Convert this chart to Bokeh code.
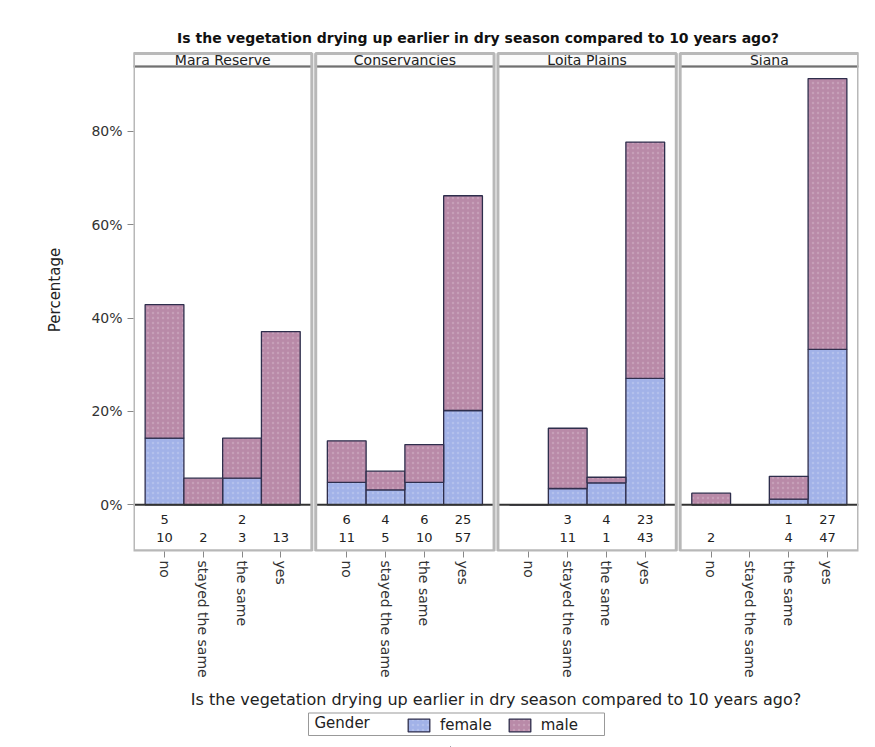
from bokeh.plotting import figure
from bokeh.layouts import column
from bokeh.models import (Range1d, FixedTicker, ColumnDataSource, Label, Legend,
                          LegendItem, PrintfTickFormatter)
from bokeh.core.properties import value
from bokeh.embed import file_html
from bokeh.resources import INLINE

# ---------------- data ----------------
regions = ["Mara Reserve", "Conservancies", "Loita Plains", "Siana"]
responses = ["no", "stayed the same", "the same", "yes"]

female_pct_mara = [14.3, 0.0, 5.7, 0.0]
male_pct_mara = [28.6, 5.7, 8.6, 37.1]
female_pct_cons = [4.8, 3.2, 4.8, 20.2]
male_pct_cons = [8.9, 4.0, 8.1, 46.0]
female_pct_loita = [0.0, 3.5, 4.7, 27.1]
male_pct_loita = [0.0, 12.9, 1.2, 50.6]
female_pct_siana = [0.0, 0.0, 1.2, 33.3]
male_pct_siana = [2.5, 0.0, 4.9, 58.0]

female_n_mara = ["5", "", "2", ""]
male_n_mara = ["10", "2", "3", "13"]
female_n_cons = ["6", "4", "6", "25"]
male_n_cons = ["11", "5", "10", "57"]
female_n_loita = ["", "3", "4", "23"]
male_n_loita = ["", "11", "1", "43"]
female_n_siana = ["", "", "1", "27"]
male_n_siana = ["2", "", "4", "47"]

y_ticks = [0, 20, 40, 60, 80]
legend_title = "Gender"
legend_labels = ["female", "male"]

title_text = "Is the vegetation drying up earlier in dry season compared to 10 years ago?"
xlabel_text = "Is the vegetation drying up earlier in dry season compared to 10 years ago?"

female_pct = [female_pct_mara, female_pct_cons, female_pct_loita, female_pct_siana]
male_pct = [male_pct_mara, male_pct_cons, male_pct_loita, male_pct_siana]
female_n = [female_n_mara, female_n_cons, female_n_loita, female_n_siana]
male_n = [male_n_mara, male_n_cons, male_n_loita, male_n_siana]

# ---------------- layout constants ----------------
FONT = "DejaVu Sans"
PANEL_W = 4.6
GAP = 0.1
STEP = PANEL_W + GAP
PAD = 0.8
Y_BOT = -10.0
Y_TOP = 102.03
HDR_BOT = 93.9
HDR_TOP = 96.7
ROW_F = -3.2
ROW_M = -7.06
TABLE_BOT = -9.84

FEMALE_C = "#a2b2e8"
MALE_C = "#b98aa8"
EDGE_C = "#2e2e4c"
FRAME_C = "#b8b8b8"
TXT_C = "#222222"

FRAME_L = 133
FRAME_R = 858

MAIN_H = 711
p = figure(width=875, height=MAIN_H, output_backend="svg", toolbar_location=None,
           x_range=Range1d(0, 4 * PANEL_W + 3 * GAP), y_range=Range1d(Y_BOT, Y_TOP),
           title=None, min_border_left=FRAME_L, min_border_right=875 - FRAME_R,
           min_border_top=28, min_border_bottom=MAIN_H - 551)
p.outline_line_color = None
p.grid.visible = False
p.background_fill_color = "white"
p.border_fill_color = "white"

xs, fb, ft, mb, mt, fl, ml = [], [], [], [], [], [], []
tick_pos, overrides = [], {}
for k in range(4):
    x0 = k * STEP
    for i, resp in enumerate(responses):
        cx = x0 + PAD + i
        xs.append(cx)
        f = female_pct[k][i]
        m = male_pct[k][i]
        fb.append(0.0)
        ft.append(f)
        mb.append(f)
        mt.append(f + m)
        fl.append(female_n[k][i])
        ml.append(male_n[k][i])
        tick_pos.append(cx)
        overrides[cx] = resp

src = ColumnDataSource(dict(x=xs, fb=fb, ft=ft, mb=mb, mt=mt, fl=fl, ml=ml,
                            yf=[ROW_F] * len(xs), ym=[ROW_M] * len(xs)))

# panel frames / headers
px0 = [k * STEP for k in range(4)]
px1 = [k * STEP + PANEL_W for k in range(4)]
hsrc = ColumnDataSource(dict(l=px0, r=px1, c=[a + PANEL_W / 2 for a in px0], name=regions,
                             hb=[HDR_BOT] * 4, ht=[HDR_TOP] * 4, tb=[TABLE_BOT] * 4,
                             hy=[(HDR_BOT + HDR_TOP) / 2] * 4, z=[0] * 4))

p.quad(left="l", right="r", bottom="hb", top="ht", source=hsrc,
       fill_color="#fbfbfb", line_color=FRAME_C, line_width=2)
p.segment(x0="l", x1="r", y0="hb", y1="hb", source=hsrc, line_color="#707070", line_width=2)
p.text(x="c", y="hy", text="name", source=hsrc, text_align="center", text_baseline="middle",
       text_font=value(FONT), text_font_size="14px", text_color=TXT_C)

# bars
bar_style = dict(line_color=EDGE_C, line_width=1.3, hatch_pattern="dot",
                 hatch_color="white", hatch_alpha=0.18, hatch_scale=5, hatch_weight=1)
fr = p.vbar(x="x", width=1.0, bottom="fb", top="ft", source=src,
            fill_color=FEMALE_C, **bar_style)
mr = p.vbar(x="x", width=1.0, bottom="mb", top="mt", source=src,
            fill_color=MALE_C, **bar_style)

# baseline and outer panel boxes
p.segment(x0="l", x1="r", y0="z", y1="z", source=hsrc, line_color="#333333", line_width=2)
p.quad(left="l", right="r", bottom="tb", top="ht", source=hsrc,
       fill_color=None, line_color=FRAME_C, line_width=3)

# count table
p.text(x="x", y="yf", text="fl", source=src, text_align="center", text_baseline="middle",
       text_font=value(FONT), text_font_size="13px", text_color=TXT_C)
p.text(x="x", y="ym", text="ml", source=src, text_align="center", text_baseline="middle",
       text_font=value(FONT), text_font_size="13px", text_color=TXT_C)

for lab, yy in (("female", ROW_F), ("male", ROW_M)):
    p.add_layout(Label(x=-0.3, y=yy, text=lab, text_align="right", text_baseline="middle",
                       text_font=FONT, text_font_size="13px", text_color=TXT_C))

# title
p.text(x=[8.885], y=[99.9], text=[title_text], text_align="center", text_baseline="middle",
       text_font=value(FONT), text_font_size="14px", text_font_style="bold",
       text_color="#111111")

# axes
ya = p.yaxis[0]
ya.ticker = FixedTicker(ticks=y_ticks)
ya.formatter = PrintfTickFormatter(format="%d%%")
ya.axis_line_color = None
ya.major_tick_line_color = "#888888"
ya.major_tick_out = 6
ya.major_tick_in = 0
ya.minor_tick_line_color = None
ya.major_label_text_font = FONT
ya.major_label_text_font_size = "14px"
ya.major_label_text_color = "#333333"
ya.axis_label = "Percentage"
ya.axis_label_text_font = FONT
ya.axis_label_text_font_size = "15px"
ya.axis_label_text_font_style = "normal"
ya.axis_label_text_color = TXT_C
ya.axis_label_standoff = 24

xa = p.xaxis[0]
xa.ticker = FixedTicker(ticks=tick_pos)
xa.major_label_overrides = overrides
xa.major_label_orientation = "vertical"
xa.axis_line_color = None
xa.major_tick_line_color = "#888888"
xa.major_tick_out = 6
xa.major_tick_in = 0
xa.minor_tick_line_color = None
xa.major_label_text_font = FONT
xa.major_label_text_font_size = "14px"
xa.major_label_text_color = "#333333"
xa.major_label_standoff = 3
xa.axis_label = xlabel_text
xa.axis_label_text_font = FONT
xa.axis_label_text_font_size = "16px"
xa.axis_label_text_font_style = "normal"
xa.axis_label_text_color = TXT_C
xa.axis_label_standoff = 9

# ---------------- legend strip ----------------
# (its frame is aligned by the column layout with the main frame: x data == page pixels)
LG_H = 747 - MAIN_H
lg = figure(width=875, height=LG_H, output_backend="svg", toolbar_location=None,
            x_range=Range1d(FRAME_L, FRAME_R), y_range=Range1d(0, LG_H), title=None,
            min_border_left=FRAME_L, min_border_right=875 - FRAME_R,
            min_border_top=0, min_border_bottom=0)
lg.axis.visible = False
lg.grid.visible = False
lg.outline_line_color = None
lg.border_fill_color = "white"
lg.background_fill_color = "white"

box_top = LG_H - 1.5
box_bot = LG_H - 24
lg.quad(left=[308], right=[604], bottom=[box_bot], top=[box_top],
        fill_color="white", line_color="#999999", line_width=1)
lg.text(x=[314], y=[(box_top + box_bot) / 2 + 1], text=[legend_title], text_align="left",
        text_baseline="middle", text_font=value(FONT), text_font_size="15px", text_color=TXT_C)

# legend-only renderers: one bar each, placed far outside the visible ranges
lfr = lg.vbar(x=[450], bottom=[-2000], top=[-1990], width=1, fill_color=FEMALE_C, **bar_style)
lmr = lg.vbar(x=[450], bottom=[-2000], top=[-1990], width=1, fill_color=MALE_C, **bar_style)

legend = Legend(items=[LegendItem(label=legend_labels[0], renderers=[lfr], index=0),
                       LegendItem(label=legend_labels[1], renderers=[lmr], index=0)],
                orientation="horizontal", location=(408 - FRAME_L - 3, box_bot + 1))
legend.label_text_font = FONT
legend.label_text_font_size = "15px"
legend.label_text_color = TXT_C
legend.label_standoff = 8
legend.label_height = 16
legend.glyph_width = 27
legend.glyph_height = 16
legend.spacing = 14
legend.padding = 3
legend.margin = 0
legend.border_line_color = None
legend.background_fill_alpha = 0
lg.add_layout(legend, "center")

layout = column(p, lg, spacing=0)
open("out.html", "w").write(file_html(layout, INLINE))
